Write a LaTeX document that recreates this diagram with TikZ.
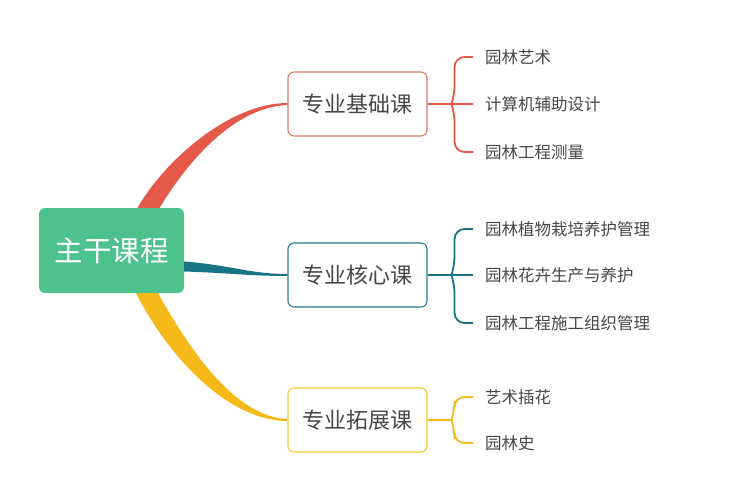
\documentclass[tikz,border=0pt]{standalone}
\usepackage{fontspec}
\newfontfamily\cjk{Noto Sans CJK SC}
\usetikzlibrary{calc}
\definecolor{rootgreen}{HTML}{4EC28C}
\definecolor{redline}{HTML}{E5594A}
\definecolor{redbox}{HTML}{E0776A}
\definecolor{blueline}{HTML}{1A7385}
\definecolor{bluebox}{HTML}{2B7A8C}
\definecolor{yellowline}{HTML}{F6B91A}
\definecolor{yellowbox}{HTML}{F2C431}
\definecolor{textgray}{HTML}{474747}

\begin{document}
\begin{tikzpicture}[x=1pt,y=-1pt,
    course/.style={draw,rounded corners=6pt,line width=1.1pt,minimum width=139pt,minimum height=64pt,
      font=\cjk\fontsize{22}{22}\selectfont,text=textgray},
    leaf/.style={anchor=west,inner sep=0pt,font=\cjk\fontsize{16.5}{16.5}\selectfont,text=textgray},
    twig/.style={line width=1.8pt,rounded corners=10pt}]
       \useasboundingbox (0,0) rectangle (749,500);
       \node[fill=rootgreen,rounded corners=6pt,minimum width=145pt,minimum height=85pt,
         text=white,font=\cjk\fontsize{28.5}{28.5}\selectfont] (root) at (111.5,250.5) {主干课程};
       \node[course,draw=redbox] (basic) at (357.5,104) {专业基础课};
       \node[course,draw=bluebox] (core) at (357.5,275) {专业核心课};
       \node[course,draw=yellowbox] (extend) at (357.5,420) {专业拓展课};
       % tapered branches
       \fill[redline] ($(root.north)+(26,0)$) .. controls (165,160) and (230,103) .. ($(basic.west)+(0,-1)$)
         -- ($(basic.west)+(0,1)$) .. controls (240,107) and (195,150) .. ($(root.north)+(48,0)$) -- cycle;
       \fill[blueline] ($(root.east)+(0,11)$) .. controls (230,265) and (250,274) .. ($(core.west)+(0,-1)$)
         -- ($(core.west)+(0,1)$) .. controls (250,276) and (230,273) .. ($(root.east)+(0,21)$) -- cycle;
       \fill[yellowline] ($(root.south)+(24.5,0)$) .. controls (170,360) and (230,421) .. ($(extend.west)+(0,1)$)
         -- ($(extend.west)+(0,-1)$) .. controls (235,417) and (190,350) .. ($(root.south)+(46.5,0)$) -- cycle;
       % leaves
       \foreach \n/\y/\t in {ba/57/园林艺术,bb/104/计算机辅助设计,bc/152/园林工程测量,
         ca/229/园林植物栽培养护管理,cb/275/园林花卉生产与养护,cc/323/园林工程施工组织管理,
         ea/397/艺术插花,eb/443/园林史}
       {
         \node[leaf] (\n) at (485,\y) {\t};
       }
       \draw[twig,redline] (basic.east) -- ++(24,0) coordinate (bj) -- ([xshift=-12pt]bb.west);
       \foreach \n/\s in {ba/-1,bc/1}
         \draw[twig,redline] (bj) -- ([shift={(3,9*\s)}]bj) |- ([xshift=-12pt]\n.west);
       \draw[twig,blueline] (core.east) -- ++(24,0) coordinate (cj) -- ([xshift=-12pt]cb.west);
       \foreach \n/\s in {ca/-1,cc/1}
         \draw[twig,blueline] (cj) -- ([shift={(3,9*\s)}]cj) |- ([xshift=-12pt]\n.west);
       \draw[twig,yellowline] (extend.east) -- ++(24,0) coordinate (ej);
       \foreach \n/\s in {ea/-1,eb/1}
         \draw[twig,yellowline] (ej) -- ([shift={(3,9*\s)}]ej) |- ([xshift=-12pt]\n.west);
     \end{tikzpicture}
\end{document}
